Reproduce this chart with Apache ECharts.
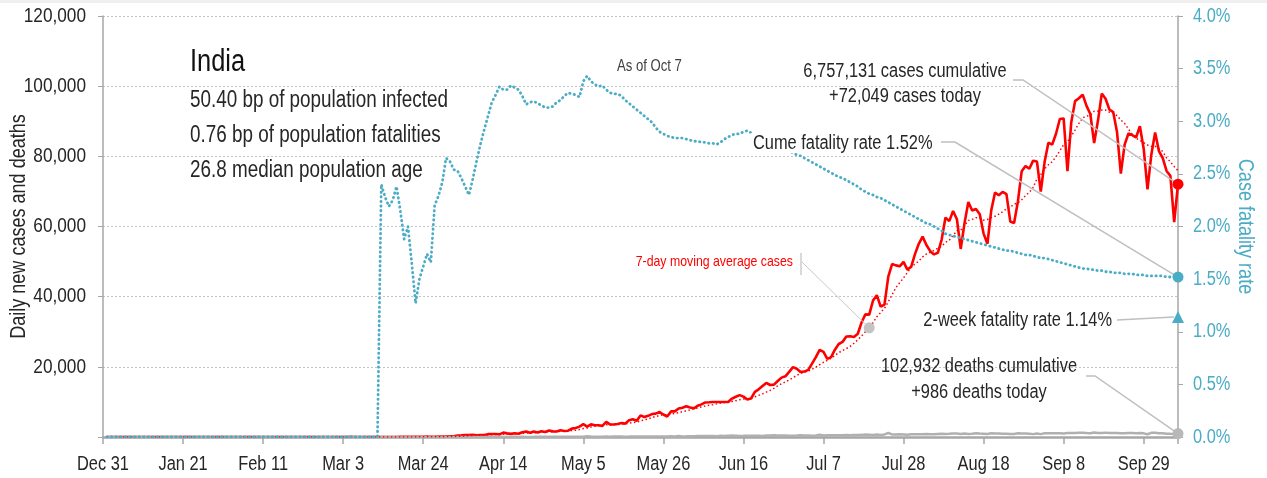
<!DOCTYPE html>
<html>

<head>
    <meta charset="UTF-8">
    <title>India</title>
    <script src="https://cdn.jsdelivr.net/npm/echarts@6/dist/echarts.min.js"></script>
    <style type="text/css">
        html,
        body {
            margin: 0px;
            padding: 0px;
            background: #ffffff;
        }

        #chart {
            width: 1267px;
            height: 478px;
        }
    </style>
</head>

<body>
    <div id="chart"></div>
    <script>
        // x ticks every 21 days, day 0 = Dec 31
        var tickLabels = ['Dec 31', 'Jan 21', 'Feb 11', 'Mar 3', 'Mar 24', 'Apr 14', 'May 5',
            'May 26', 'Jun 16', 'Jul 7', 'Jul 28', 'Aug 18', 'Sep 8', 'Sep 29'];
        // left axis is labelled from 20,000 up, right axis from 0.0%
        var caseTicks = [20000, 40000, 60000, 80000, 100000, 120000];
        var rateTicks = [0, 0.5, 1, 1.5, 2, 2.5, 3, 3.5, 4];

        // daily new cases, Dec 31 .. Oct 7
        var dailyCases = [
            0,
            0, 0, 0, 0, 0, 0, 0, 0, 0, 0, 0, 0, 0, 0, 0, 0, 0, 0, 0, 0, 0, 0, 0, 0, 0, 0, 0, 0, 0, 1, 0,
            // Feb
            0, 1, 1, 0, 0, 0, 0, 0, 0, 0, 0, 0, 0, 0, 0, 0, 0, 0, 0, 0, 0, 0, 0, 0, 0, 0, 0, 0, 0,
            // Mar
            0, 2, 1, 22, 2, 1, 3, 5, 9, 15, 8, 10, 8, 18, 12, 11, 27, 25, 35, 60,
            80, 75, 90, 100, 86, 88, 130, 150, 100, 230, 230,
            // Apr
            437, 486, 560, 579, 609, 484, 573, 565, 813, 871, 854, 758, 1243, 1031, 886,
            1061, 922, 1371, 1580, 1239, 1537, 1292, 1667, 1408, 1835, 1607, 1568, 1902, 1705, 1801,
            // May
            2396, 2564, 2952, 3656, 2971, 3602, 3344, 3339, 3175, 4311, 3592, 3562, 3726, 3991, 3808,
            4794, 5050, 4628, 6154, 5720, 6023, 6536, 6667, 7111, 6414, 5843, 7293, 7300, 8105, 8336, 8782,
            // Jun
            8392, 8171, 8909, 9304, 9851, 9887, 9971, 9983, 9987, 9985, 9996, 10956, 11458, 11929, 11502,
            10667, 10974, 12881, 13586, 14516, 15413, 14821, 14933, 15968, 16922, 17296, 18552, 19906, 19459, 18522,
            // Jul
            18653, 19148, 20903, 22771, 24850, 24248, 22252, 22752, 24879, 26506, 27114, 28637, 28701, 28498, 29429,
            32695, 34956, 34884, 38902, 40425, 37148, 37724, 45720, 49310, 48916, 48661, 49931, 47703, 48513, 52123, 55079,
            // Aug
            57118, 54735, 52972, 52050, 52509, 56282, 62538, 61537, 64399, 62064, 53601, 60963, 66999, 64553, 65002,
            63490, 57981, 55079, 64531, 69652, 68898, 69878, 69239, 61408, 60975, 67151, 75760, 77266, 76472, 78761, 78512,
            // Sep
            69921, 78357, 83883, 83341, 86432, 90632, 90802, 75809, 89706, 95735, 96551, 97570, 94372, 92071, 83809,
            90123, 97894, 96424, 93337, 92605, 86961, 75083, 83347, 86508, 86052, 85362, 88600, 82170, 70589, 80472,
            // Oct
            86821, 81484, 79476, 75829, 74442, 61267, 72049
        ];

        // daily deaths, Dec 31 .. Oct 7
        var dailyDeaths = [
            0,
            0, 0, 0, 0, 0, 0, 0, 0, 0, 0, 0, 0, 0, 0, 0, 0, 0, 0, 0, 0, 0, 0, 0, 0, 0, 0, 0, 0, 0, 0, 0,
            0, 0, 0, 0, 0, 0, 0, 0, 0, 0, 0, 0, 0, 0, 0, 0, 0, 0, 0, 0, 0, 0, 0, 0, 0, 0, 0, 0, 0,
            0, 0, 0, 0, 0, 0, 0, 0, 0, 0, 0, 1, 1, 0, 0, 0, 1, 0, 1, 1, 0, 3, 2, 1, 1, 3, 4, 2, 6, 4, 3,
            3, 11, 12, 6, 21, 18, 35, 17, 33, 26, 35, 40, 31, 35, 38, 45, 26, 41, 28, 35,
            36, 50, 37, 49, 57, 56, 62, 51, 73, 67,
            77, 83, 68, 83, 194, 126, 89, 104, 95, 111, 87, 121, 134, 122, 100, 120, 157, 134, 148, 132,
            140, 136, 137, 148, 154, 146, 194, 175, 265, 175, 193,
            230, 204, 260, 273, 287, 294, 287, 206, 331, 279, 357, 396, 389, 311, 325, 380, 340, 336, 375, 306,
            445, 445, 465, 418, 407, 413, 384, 380, 418, 507,
            418, 434, 379, 442, 613, 425, 465, 482, 487, 475, 519, 553, 500, 551, 582, 606, 687, 671, 543, 681,
            587, 740, 1129, 740, 705, 757, 708, 654, 768, 775, 779,
            764, 853, 771, 803, 857, 904, 886, 933, 1007, 1013, 871, 1007, 834, 942, 1092, 996, 944, 876, 1059, 977,
            983, 944, 912, 836, 848, 1059, 1023, 1021, 948, 819, 971,
            819, 1045, 1043, 1096, 1089, 1065, 1016, 1133, 1115, 1172, 1209, 1201, 1114, 1054, 1290, 1132, 1132, 1247, 1174, 1130,
            1130, 1053, 1085, 1129, 1141, 1089, 1124, 1039, 776, 1179,
            1181, 1095, 1069, 940, 903, 884, 986
        ];

        // cumulative case fatality rate (%), Dec 31 .. Oct 7
        var fatalityRate = [
            0, 0, 0, 0, 0, 0, 0, 0, 0, 0, 0, 0, 0, 0, 0, 0, 0, 0, 0, 0, 0, 0, 0, 0,
            0, 0, 0, 0, 0, 0, 0, 0, 0, 0, 0, 0, 0, 0, 0, 0, 0, 0, 0, 0, 0, 0, 0, 0,
            0, 0, 0, 0, 0, 0, 0, 0, 0, 0, 0, 0, 0, 0, 0, 0, 0, 0, 0, 0, 0, 0, 0, 0,
            2.40, 2.28, 2.19, 2.25, 2.38, 2.15, 1.88, 2.00, 1.65, 1.27,
            1.50, 1.62, 1.74, 1.66, 2.20, 2.29, 2.42, 2.65, 2.62, 2.54,
            2.53, 2.46, 2.38, 2.30, 2.45, 2.62, 2.78, 2.92, 3.05, 3.18,
            3.25, 3.33, 3.30, 3.30, 3.34, 3.32, 3.30, 3.24, 3.16, 3.18,
            3.19, 3.17, 3.15, 3.13, 3.13, 3.14, 3.18, 3.20, 3.24, 3.27,
            3.26, 3.25, 3.23, 3.38, 3.43, 3.38, 3.35, 3.33, 3.34, 3.30,
            3.27, 3.26, 3.26, 3.24, 3.20, 3.17, 3.14, 3.11, 3.08, 3.05,
            3.02, 2.99, 2.94, 2.90, 2.88, 2.86, 2.85, 2.84, 2.84, 2.84,
            2.83, 2.82, 2.81, 2.81, 2.80, 2.80, 2.79, 2.79, 2.78, 2.80,
            2.83, 2.85, 2.87, 2.88, 2.88, 2.90, 2.91, 2.89, 2.87, 2.86,
            2.84, 2.82, 2.80, 2.78, 2.77, 2.75, 2.73, 2.72, 2.70, 2.68,
            2.67, 2.65, 2.63, 2.61, 2.59, 2.57, 2.55, 2.53, 2.51, 2.49,
            2.47, 2.46, 2.44, 2.42, 2.40, 2.38, 2.35, 2.33, 2.31, 2.30,
            2.28, 2.27, 2.25, 2.23, 2.21, 2.19, 2.17, 2.15, 2.13, 2.11,
            2.09, 2.07, 2.05, 2.03, 2.02, 2.00, 1.98, 1.96, 1.93, 1.92,
            1.91, 1.90, 1.89, 1.88, 1.87, 1.86, 1.85, 1.84, 1.83, 1.82,
            1.81, 1.80, 1.79, 1.78, 1.77, 1.77, 1.76, 1.75, 1.74, 1.73,
            1.73, 1.72, 1.71, 1.70, 1.70, 1.69, 1.68, 1.67, 1.66, 1.65,
            1.64, 1.63, 1.62, 1.61, 1.60, 1.60, 1.59, 1.59, 1.58, 1.58,
            1.57, 1.57, 1.56, 1.56, 1.56, 1.55, 1.55, 1.55, 1.54, 1.54,
            1.54, 1.53, 1.53, 1.53, 1.53, 1.53, 1.52, 1.52, 1.52, 1.52
        ];

        var twoWeekRate = 1.14;
        var totalCases = 6757131;
        var totalDeaths = 102932;
        var infectedBp = '50.40';
        var fatalityBp = '0.76';
        var medianAge = '26.8';
        var asOf = 'Oct 7';
        var labelDay = 200;   // where the "7-day moving average" pointer lands

        // no narrow face installed: Arial metrics squeezed to 82% wide
        var FONT = '"Liberation Sans", Arial, sans-serif';
        var SQUEEZE = 0.82;
        var RED = '#ff0000';
        var TEAL = '#4bacc6';
        var GREY = '#a6a6a6';
        var INK = '#262626';

        // 7-day trailing mean of the daily cases
        var movingAvg = dailyCases.map(function (v, i) {
            var from = Math.max(0, i - 6), sum = 0;
            for (var k = from; k <= i; k++) sum += dailyCases[k];
            return sum / (i - from + 1);
        });

        // the source plots each day one slot right of its tick
        function atDay(arr) {
            return arr.map(function (v, i) { return [i + 1, v]; });
        }
        var last = dailyCases.length - 1;
        var xEnd = last + 1;

        function fmt(n) { return Math.round(n).toLocaleString('en-US'); }

        var chart = echarts.init(document.getElementById('chart'), null, { renderer: 'canvas' });

        chart.setOption({
            animation: false,
            grid: { left: 103, right: 89, top: 16, bottom: 41, outerBoundsMode: 'none' },
            xAxis: {
                type: 'value', min: 0, max: xEnd, interval: 21, z: 2,
                axisLine: { lineStyle: { color: GREY, width: 2.5 } },
                axisTick: { length: 7, lineStyle: { color: GREY, width: 1.5 } },
                axisLabel: { show: false },
                splitLine: { show: false }
            },
            yAxis: [{
                type: 'value', min: 0, max: 120000, interval: 20000, position: 'left', z: 0,
                axisLine: { show: true, lineStyle: { color: GREY, width: 1.5 } },
                axisTick: { show: true, length: 5, lineStyle: { color: GREY } },
                axisLabel: { show: false },
                splitLine: { lineStyle: { color: '#c4c4c4', type: [2, 2], width: 1 } }
            }, {
                type: 'value', min: 0, max: 4, interval: 0.5, position: 'right', z: 0,
                axisLine: { show: true, lineStyle: { color: GREY, width: 1.5 } },
                axisTick: { show: true, length: 5, lineStyle: { color: GREY } },
                axisLabel: { show: false },
                splitLine: { show: false }
            }],
            series: [{
                name: 'cases', type: 'line', data: atDay(dailyCases), z: 1,
                showSymbol: false, lineStyle: { color: RED, width: 2.6 }
            }, {
                name: 'deaths', type: 'line', data: atDay(dailyDeaths), z: 3,
                showSymbol: false, lineStyle: { color: '#b0b0b0', width: 2.5 }
            }, {
                name: 'ma', type: 'line', data: atDay(movingAvg), z: 4,
                showSymbol: false, lineStyle: { color: RED, width: 1.5, type: [1.5, 2.5] }
            }, {
                name: 'cfr', type: 'line', yAxisIndex: 1, data: atDay(fatalityRate), z: 5,
                showSymbol: false,
                lineStyle: { color: TEAL, width: 2.8, type: [0.4, 4.2], cap: 'round', join: 'round' }
            }, {
                type: 'scatter', z: 10, symbolSize: 11,
                data: [[xEnd, dailyCases[last]]], itemStyle: { color: RED, opacity: 1 }
            }, {
                type: 'scatter', z: 10, symbolSize: 11,
                data: [[xEnd, dailyDeaths[last]]], itemStyle: { color: '#b8b8b8', opacity: 1 }
            }, {
                type: 'scatter', z: 10, symbolSize: 11,
                data: [[labelDay + 1, movingAvg[labelDay]]], itemStyle: { color: '#c4c4c4', opacity: 1 }
            }, {
                type: 'scatter', yAxisIndex: 1, z: 10, symbolSize: 11,
                data: [[xEnd, fatalityRate[last]]], itemStyle: { color: TEAL, opacity: 1 }
            }, {
                type: 'scatter', yAxisIndex: 1, z: 10, symbolSize: 12, symbol: 'triangle',
                data: [[xEnd, twoWeekRate]], itemStyle: { color: TEAL, opacity: 1 }
            }]
        });

        function px(x, y, axis) {
            return chart.convertToPixel({ xAxisIndex: 0, yAxisIndex: axis || 0 }, [x, y]);
        }

        // annotation anchors come from the axes
        var pCase = px(xEnd, dailyCases[last]);
        var pDeath = px(xEnd, dailyDeaths[last]);
        var pMa = px(labelDay + 1, movingAvg[labelDay]);
        var pCfr = px(xEnd, fatalityRate[last], 1);
        var pTwo = px(xEnd, twoWeekRate, 1);

        function text(x, y, str, size, color, align, extra, rotation) {
            var style = {
                text: str, x: 0, y: 0, fill: color, font: size + 'px ' + FONT,
                align: align || 'left', verticalAlign: 'middle'
            };
            if (extra) for (var k in extra) style[k] = extra[k];
            return { type: 'text', x: x, y: y, scaleX: SQUEEZE, rotation: rotation || 0, z: 20, style: style };
        }
        function leader(points, width, color) {
            return {
                type: 'polyline', z: 8, shape: { points: points },
                style: { stroke: color || '#bfbfbf', lineWidth: width || 1.5, fill: null }
            };
        }

        var g = [
            { type: 'rect', z: 0, shape: { x: 0, y: 0, width: 1267, height: 3 }, style: { fill: '#efefef' } }
        ];

        // axis labels, placed on the axes' own scales
        var axisBottom = px(0, 0)[1];
        tickLabels.forEach(function (lab, i) {
            g.push(text(px(i * 21, 0)[0], axisBottom + 27, lab, 20, INK, 'center'));
        });
        caseTicks.forEach(function (v) {
            var p = px(0, v);
            g.push(text(p[0] - 17, p[1], fmt(v), 21, INK, 'right'));
        });
        rateTicks.forEach(function (v) {
            var p = px(xEnd, v, 1);
            g.push(text(p[0] + 15, p[1], v.toFixed(1) + '%', 20, TEAL, 'left'));
        });
        var midY = (px(0, 0)[1] + px(0, 120000)[1]) / 2;
        g.push(text(19, midY, 'Daily new cases and deaths', 22, INK, 'center', null, Math.PI / 2));
        g.push(text(1245, midY, 'Case fatality rate', 22, TEAL, 'center', null, -Math.PI / 2));

        g = g.concat([
            text(190, 62, 'India', 31, '#111111'),
            text(190, 101, infectedBp + ' bp of population infected', 23, INK),
            text(190, 136, fatalityBp + ' bp of population fatalities', 23, INK),
            text(190, 171, medianAge + ' median population age', 23, INK),
            text(617, 67, 'As of ' + asOf, 16, '#404040'),
            text(905, 71, fmt(totalCases) + ' cases cumulative', 20, INK, 'center'),
            text(905, 96, '+' + fmt(dailyCases[last]) + ' cases today', 20, INK, 'center'),
            leader([[1013, 80], [1023, 80], pCase]),
            text(935, 143, 'Cume fatality rate ' + fatalityRate[last].toFixed(2) + '%', 20, INK, 'right',
                { backgroundColor: '#ffffff', padding: [0, 3] }),
            leader([[941, 142], [955, 142], pCfr]),
            text(793, 262, '7-day moving average cases', 15, RED, 'right'),
            leader([[801, 253], [801, 275]], 2, '#d9d9d9'),
            leader([[802, 262], pMa], 1, '#c8c8c8'),
            text(1112, 320, '2-week fatality rate ' + twoWeekRate.toFixed(2) + '%', 20, INK, 'right'),
            leader([[1117, 320], [pTwo[0] - 4, pTwo[1]]]),
            text(979, 366, fmt(totalDeaths) + ' deaths cumulative', 20, INK, 'center'),
            text(979, 392, '+' + fmt(dailyDeaths[last]) + ' deaths today', 20, INK, 'center'),
            leader([[1086, 376], [1095, 376], pDeath])
        ]);

        chart.setOption({ graphic: g });
    </script>
</body>

</html>
